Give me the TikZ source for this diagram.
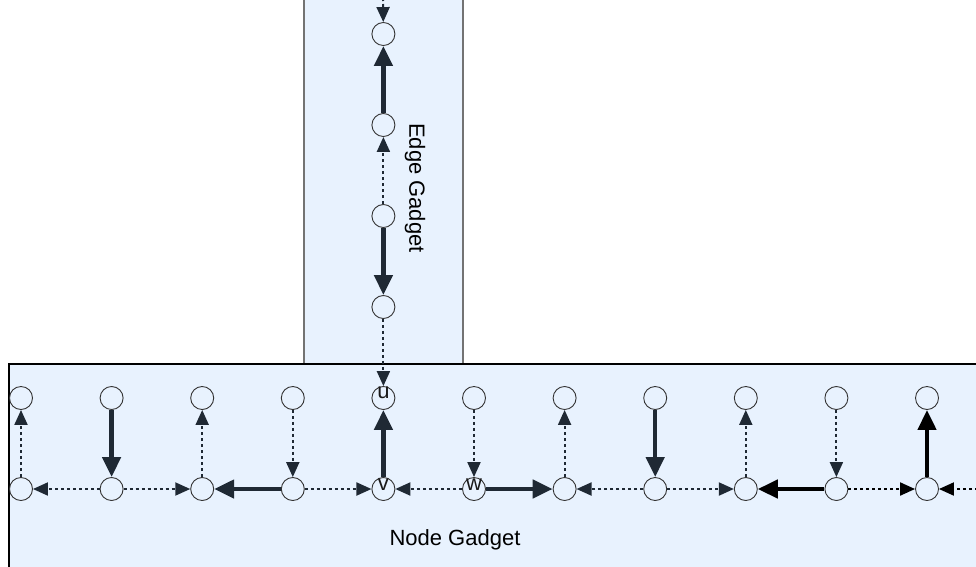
\documentclass[tikz,border=0pt]{standalone}
\usepackage{fontspec}
\setmainfont{Liberation Sans}
\usepackage{tikz}
\usetikzlibrary{positioning}
\usetikzlibrary{arrows.meta}
\usepackage{xcolor}
\definecolor{gadgetfill}{HTML}{E8F2FE}
\definecolor{arrowdark}{HTML}{1F2934}

\begin{document}
\begin{tikzpicture}[
  x=1pt, y=-1pt,
  vertex/.style={draw=black!80, circle, line width=0.9pt, minimum size=23pt, inner sep=0pt},
  lbl/.style={font=\fontsize{22}{24}\selectfont, inner sep=0pt, text=black!90},
  strong/.style={draw=arrowdark, line width=4.5pt, -{Triangle[length=20pt, width=18pt]}},
  strongblk/.style={strong, draw=black},
  weak/.style={draw=arrowdark, line width=2pt, dash pattern=on 3pt off 3pt, -{Triangle[length=15pt, width=13pt]}},
  gadget/.style={fill=gadgetfill, line width=1.2pt}
]
\useasboundingbox (0,0) rectangle (976,566);
\clip (0,0) rectangle (976,566);
\fill[white] (0,0) rectangle (976,566);

\draw[gadget, draw=black!55] (304,-10) rectangle (463,364);
\draw[gadget, draw=black] (9,364) rectangle (990,580);

\node[rotate=-90, font=\fontsize{22}{26}\selectfont] (edgetitle) at (415,188) {Edge Gadget};
\node[font=\fontsize{22}{26}\selectfont] (nodetitle) at (455,540) {Node Gadget};

\node[vertex] (b1) at (21,489) {};
\node[vertex, right=66.7pt of b1] (b2) {};
\node[vertex, right=66.7pt of b2] (b3) {};
\node[vertex, right=66.7pt of b3] (b4) {};
\node[vertex, right=66.7pt of b4] (b5) {};
\node[vertex, right=66.7pt of b5] (b6) {};
\node[vertex, right=66.7pt of b6] (b7) {};
\node[vertex, right=66.7pt of b7] (b8) {};
\node[vertex, right=66.7pt of b8] (b9) {};
\node[vertex, right=66.7pt of b9] (b10) {};
\node[vertex, right=66.7pt of b10] (b11) {};

\node[vertex, above=67.1pt of b1] (t1) {};
\node[vertex, above=67.1pt of b2] (t2) {};
\node[vertex, above=67.1pt of b3] (t3) {};
\node[vertex, above=67.1pt of b4] (t4) {};
\node[vertex, above=67.1pt of b5] (t5) {};
\node[vertex, above=67.1pt of b6] (t6) {};
\node[vertex, above=67.1pt of b7] (t7) {};
\node[vertex, above=67.1pt of b8] (t8) {};
\node[vertex, above=67.1pt of b9] (t9) {};
\node[vertex, above=67.1pt of b10] (t10) {};
\node[vertex, above=67.1pt of b11] (t11) {};

\node[vertex, above=67.1pt of t5] (e4) {};
\node[vertex, above=67.1pt of e4] (e3) {};
\node[vertex, above=67.1pt of e3] (e2) {};
\node[vertex, above=67.1pt of e2] (e1) {};

\coordinate (topin) at (383,-2);
\coordinate (rightin) at (984,489);

\draw[weak] (topin) -- (e1);
\draw[strong] (e2) -- (e1);
\draw[weak] (e3) -- (e2);
\draw[strong] (e3) -- (e4);
\draw[weak] (e4) -- (t5);

\draw[weak] (b1) -- (t1);
\draw[weak] (b2) -- (b1);
\draw[strong] (t2) -- (b2);
\draw[weak] (b2) -- (b3);
\draw[weak] (b3) -- (t3);
\draw[strong] (b4) -- (b3);
\draw[weak] (t4) -- (b4);
\draw[weak] (b4) -- (b5);
\draw[strong] (b5) -- (t5);
\draw[weak] (b6) -- (b5);
\draw[weak] (t6) -- (b6);
\draw[strong] (b6) -- (b7);
\draw[weak] (b7) -- (t7);
\draw[weak] (b8) -- (b7);
\draw[strong] (t8) -- (b8);
\draw[weak] (b8) -- (b9);
\draw[weak] (b9) -- (t9);
\draw[strongblk] (b10) -- (b9);
\draw[weak] (t10) -- (b10);
\draw[weak, draw=black] (b10) -- (b11);
\draw[strongblk] (b11) -- (t11);
\draw[weak, draw=black] (rightin) -- (b11);

\node[lbl, yshift=5pt] (ulbl) at (t5) {u};
\node[lbl, yshift=4pt] (vlbl) at (b5) {v};
\node[lbl, yshift=4pt] (wlbl) at (b6) {w};

\end{tikzpicture}
\end{document}
